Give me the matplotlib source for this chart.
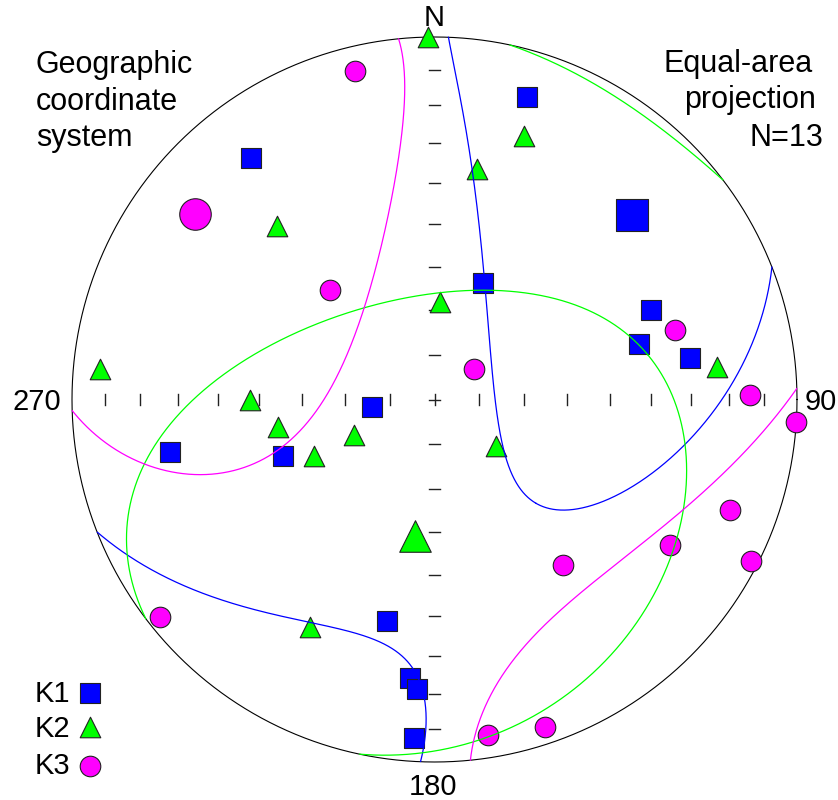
import numpy as np
import matplotlib
matplotlib.use("Agg")
import matplotlib.pyplot as plt

plt.rcParams['font.family'] = ['Liberation Sans', 'DejaVu Sans']

# Principal susceptibility axes: trend (deg clockwise from N) and plunge (deg, down)
k1_trend = [17.0, 22.5, 322.8, 263.4, 258.8, 249.7, 67.5, 74.8, 80.8, 192.2, 185.0, 183.5, 183.4]
k1_plunge = [13.9, 61.5, 17.5, 76.0, 26.5, 53.2, 35.7, 41.2, 29.4, 37.6, 24.0, 21.0, 7.3]
k2_trend = [359.0, 18.8, 10.5, 317.7, 3.4, 275.2, 270.0, 260.0, 246.4, 244.8, 83.4, 127.0, 208.7]
k2_plunge = [0.0, 24.3, 35.5, 35.5, 68.1, 8.2, 47.9, 53.9, 70.2, 59.8, 22.5, 72.6, 29.2]
k3_trend = [346.4, 316.3, 74.0, 52.3, 89.2, 93.6, 110.5, 121.7, 117.0, 142.3, 171.0, 161.3, 231.6]
k3_plunge = [7.6, 55.6, 31.5, 78.7, 13.9, 0.0, 14.1, 24.7, 2.3, 41.7, 6.9, 5.2, 3.7]

# Mean directions of K1, K2, K3
mean_trend = [46.9, 188.0, 307.8]
mean_plunge = [26.3, 58.9, 17.6]

# Confidence ellipses: semi-angles (deg), rotation of the first semi-axis and
# centre offset (deg), all in the tangent frame (next axis -> the one after)
ell_a = [67.5, 67.1, 55.5]
ell_b = [33.0, 52.5, 42.0]
ell_rot = [-17.0, 108.3, 98.3]
ell_shift_x = [0.0, 0.0, 0.0]
ell_shift_y = [0.0, -1.5, 0.0]

labels = ['K1', 'K2', 'K3']
colors = ['#0000ff', '#00ff00', '#ff00ff']
markers = ['s', '^', 'o']
n_specimens = 13

tick_plunges = [10, 20, 30, 40, 50, 60, 70, 80]


def vec(trend, plunge):
    t = np.radians(np.asarray(trend, float))
    p = np.radians(np.asarray(plunge, float))
    return np.stack([np.cos(p) * np.cos(t), np.cos(p) * np.sin(t), np.sin(p)], axis=-1)


def project(v):
    """Lower-hemisphere Schmidt (equal-area) projection of unit vectors (N, E, D)."""
    v = np.atleast_2d(np.asarray(v, float)).copy()
    flip = v[:, 2] < 0
    v[flip] *= -1
    colat = np.arccos(np.clip(v[:, 2], -1, 1))
    r = np.sqrt(2) * np.sin(colat / 2)
    tr = np.arctan2(v[:, 1], v[:, 0])
    return r * np.sin(tr), r * np.cos(tr)


def radius(plunge):
    return np.sqrt(2) * np.sin(np.radians(90 - np.asarray(plunge, float)) / 2)


def offset_dir(C, e1, e2, dx, dy):
    """Unit vector at angular offset (dx, dy) degrees from C in the frame e1, e2."""
    dx, dy = np.radians(dx), np.radians(dy)
    rho = np.hypot(dx, dy)
    phi = np.arctan2(dy, dx)
    return np.cos(rho) * C + np.sin(rho) * (np.cos(phi) * e1 + np.sin(phi) * e2)


fig = plt.figure(figsize=(8.38, 8.00), dpi=100)
ax = fig.add_axes([0, 0, 1, 1])
CX, CY, R = 434.5, 399.5, 362.5
ax.set_xlim(-CX / R, (838 - CX) / R)
ax.set_ylim(-(800 - CY) / R, CY / R)
ax.axis('off')


def P(xp, yp):
    return (xp - CX) / R, (CY - yp) / R


# primitive circle
th = np.linspace(0, 2 * np.pi, 721)
ax.plot(np.cos(th), np.sin(th), color='black', lw=0.8, zorder=1)

# ticks every 10 degrees of plunge along the N-S and E-W lines
h = 5.5 / R
for p in tick_plunges:
    r = radius(p)
    for s in (-1, 1):
        ax.plot([s * r, s * r], [-h, h], color='#222222', lw=1.0, zorder=1)
        ax.plot([-h, h], [s * r, s * r], color='#222222', lw=1.0, zorder=1)
ax.plot([-h, h], [0, 0], color='#222222', lw=1.0, zorder=1)
ax.plot([0, 0], [-h, h], color='#222222', lw=1.0, zorder=1)

# specimen axes
small, big = 14.8 ** 2, 22.7 ** 2
for tr, pl, c, m in zip([k1_trend, k2_trend, k3_trend], [k1_plunge, k2_plunge, k3_plunge],
                        colors, markers):
    x, y = project(vec(tr, pl))
    ax.scatter(x, y, s=small, marker=m, facecolor=c, edgecolor='#222222',
               linewidth=0.8, zorder=3, clip_on=False)

# means
means = vec(mean_trend, mean_plunge)
for i in range(3):
    x, y = project(means[i])
    ax.scatter(x, y, s=big, marker=markers[i], facecolor=colors[i],
               edgecolor='#222222', linewidth=0.8, zorder=3, clip_on=False)

# confidence ellipses
t = np.linspace(0, 2 * np.pi, 3001)
for i in range(3):
    M = means[i]
    o = means[(i + 1) % 3]
    e1 = o - np.dot(o, M) * M
    e1 /= np.linalg.norm(e1)
    e2 = np.cross(M, e1)
    C = offset_dir(M, e1, e2, ell_shift_x[i], ell_shift_y[i])
    f1 = e1 - np.dot(e1, C) * C
    f1 /= np.linalg.norm(f1)
    f2 = np.cross(C, f1)
    a, b, psi = np.radians(ell_a[i]), np.radians(ell_b[i]), np.radians(ell_rot[i])
    lx = a * np.cos(t) * np.cos(psi) - b * np.sin(t) * np.sin(psi)
    ly = a * np.cos(t) * np.sin(psi) + b * np.sin(t) * np.cos(psi)
    rho = np.hypot(lx, ly)
    phi = np.arctan2(ly, lx)
    v = (np.cos(rho)[:, None] * C
         + np.sin(rho)[:, None] * (np.cos(phi)[:, None] * f1 + np.sin(phi)[:, None] * f2))
    sign = np.sign(v[:, 2])
    breaks = np.where(np.diff(sign) != 0)[0] + 1
    for seg in np.split(np.arange(len(t)), breaks):
        if len(seg) < 2:
            continue
        x, y = project(v[seg])
        ax.plot(x, y, color=colors[i], lw=0.9, zorder=4)

# direction labels
fs_dir = 21
ax.text(*P(434, 26), 'N', ha='center', va='baseline', fontsize=fs_dir)
ax.text(*P(805, 410.5), '90', ha='left', va='baseline', fontsize=fs_dir)
ax.text(*P(61, 410.5), '270', ha='right', va='baseline', fontsize=fs_dir)
ax.text(*P(433, 795), '180', ha='center', va='baseline', fontsize=fs_dir)

# captions
fs_cap = 22
for txt, yb in zip(['Geographic', 'coordinate', 'system'], [72.7, 110.0, 145.7]):
    ax.text(*P(36, yb), txt, ha='left', va='baseline', fontsize=fs_cap)
for txt, xr, yb in zip(['Equal-area', 'projection', f'N={n_specimens}'],
                       [813, 816, 823], [71.7, 108.0, 145.7]):
    ax.text(*P(xr, yb), txt, ha='right', va='baseline', fontsize=fs_cap)

# legend
for i, (yb, ym) in enumerate(zip([702, 737, 774], [693, 727, 766])):
    ax.text(*P(35, yb), labels[i], ha='left', va='baseline', fontsize=fs_dir)
    ax.scatter(*P(90, ym), s=small, marker=markers[i], facecolor=colors[i],
               edgecolor='#222222', linewidth=0.8, zorder=3, clip_on=False)

fig.savefig('out.png', dpi=100, facecolor='white')
